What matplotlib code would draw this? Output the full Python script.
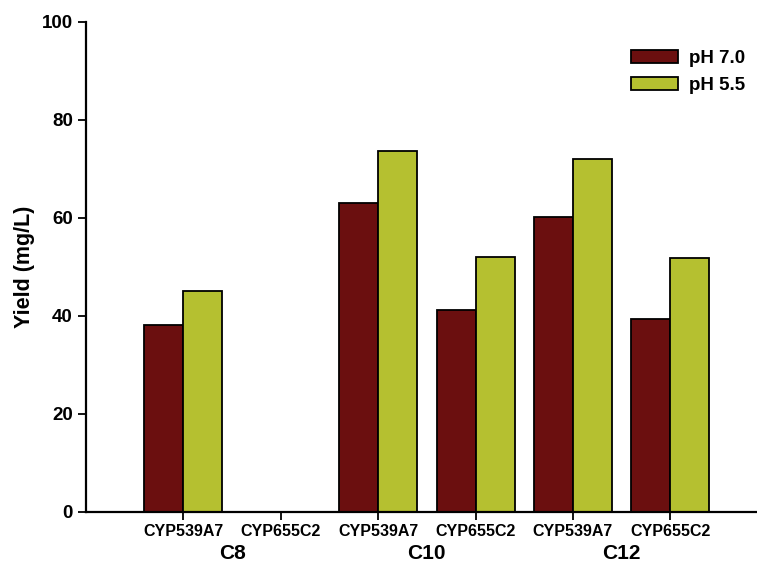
import matplotlib.pyplot as plt
import numpy as np

plt.rcParams["font.family"] = ["Liberation Sans", "DejaVu Sans"]
plt.rcParams["font.weight"] = "bold"

enzymes = ["CYP539A7", "CYP655C2", "CYP539A7", "CYP655C2", "CYP539A7", "CYP655C2"]
substrates = ["C8", "C10", "C12"]
ph70 = [38.2, 0, 63.1, 41.2, 60.3, 39.3]
ph55 = [45.0, 0, 73.7, 52.1, 72.0, 51.8]

x = np.arange(len(enzymes))
w = 0.4

fig = plt.figure(figsize=(7.57, 5.68), dpi=100)
ax = fig.add_axes([0.1136, 0.0986, 0.8864, 0.8627])

ax.bar(x - w / 2, ph70, w, color="#6b0f0f", edgecolor="black", linewidth=1.3, label="pH 7.0")
ax.bar(x + w / 2, ph55, w, color="#b5c030", edgecolor="black", linewidth=1.3, label="pH 5.5")

ax.set_xlim(-1.0, 5.89)
ax.set_ylim(0, 100)
ax.set_yticks([0, 20, 40, 60, 80, 100])
ax.set_xticks(x)
ax.set_xticklabels(enzymes, fontsize=11.5)
ax.tick_params(axis="y", labelsize=13.5, length=6, width=1.3, direction="out")
ax.tick_params(axis="x", length=6, width=1.3, direction="out", pad=3)
for lbl in ax.get_yticklabels() + ax.get_xticklabels():
    lbl.set_fontweight("bold")

for s in ["top", "right"]:
    ax.spines[s].set_visible(False)
for s in ["left", "bottom"]:
    ax.spines[s].set_linewidth(1.6)

ax.set_ylabel("Yield (mg/L)", fontsize=15.5, fontweight="bold", labelpad=5)

# substrate group labels under each pair
for i, sub in enumerate(substrates):
    ax.text(2 * i + 0.5, -0.085, sub, transform=ax.get_xaxis_transform(),
            ha="center", va="center", fontsize=15, fontweight="bold")

leg = ax.legend(loc="upper right", bbox_to_anchor=(1.008, 0.977), frameon=False,
                fontsize=13.5, handlelength=2.5, handleheight=0.7, labelspacing=0.5,
                handletextpad=0.6)
for t in leg.get_texts():
    t.set_fontweight("bold")

fig.savefig("out.png", dpi=100)
